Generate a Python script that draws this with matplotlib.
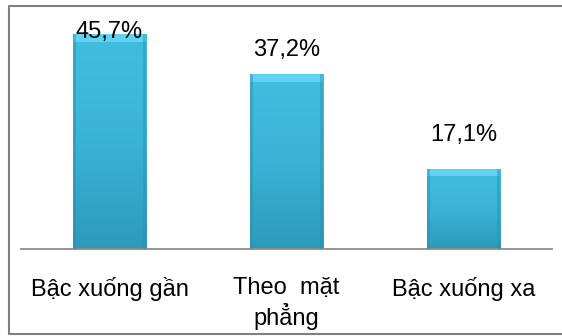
import numpy as np
import matplotlib.pyplot as plt
from matplotlib.colors import LinearSegmentedColormap
from matplotlib.patches import Rectangle
from matplotlib.lines import Line2D

plt.rcParams['font.family'] = ['Liberation Sans', 'DejaVu Sans']

# Data
categories = ["Bậc xuống gần", "Theo  mặt\nphẳng", "Bậc xuống xa"]
values = [45.7, 37.2, 17.1]
value_labels = ["45,7%", "37,2%", "17,1%"]
label_offsets = [-4, 18, 28]  # label baseline distance above bar top, in px

W, H = 562, 336
fig = plt.figure(figsize=(W / 100, H / 100), dpi=100)
ax = fig.add_axes([21 / W, 1 - 249 / H, 531 / W, 239 / H])

x = np.arange(len(categories))
bars = ax.bar(x, values, width=0.415, color="#3cb4d6", zorder=2)

ax.set_xlim(-0.5, len(categories) - 0.5)
ax.set_ylim(0, 239 / 4.7)

# gradient + bevel on each bar
cmap = LinearSegmentedColormap.from_list("g", ["#2e9aba", "#3ab3d6", "#42bde0"])
grad = np.linspace(0, 1, 100).reshape(-1, 1)
for b in bars:
    bx, bw, bh = b.get_x(), b.get_width(), b.get_height()
    b.set_facecolor("none")
    im = ax.imshow(grad, extent=[bx, bx + bw, 0, bh], aspect="auto", cmap=cmap,
                   origin="lower", zorder=2)
    im.set_clip_path(b)
    ax.add_patch(Rectangle((bx, bh - 1.6), bw, 1.6, color="#5fd3f0", zorder=3, lw=0))
    ax.add_patch(Rectangle((bx, 0), bw * 0.05, bh, color="#2a8fb0", alpha=0.45, zorder=3, lw=0))
    ax.add_patch(Rectangle((bx + bw * 0.95, 0), bw * 0.05, bh, color="#2a8fb0", alpha=0.45, zorder=3, lw=0))

for xi, v, lab, off in zip(x, values, value_labels, label_offsets):
    ax.annotate(lab, (xi, v), xytext=(0, off * 0.72), textcoords="offset points",
                ha="center", va="baseline", fontsize=17, color="black", zorder=4)

ax.set_xticks(x)
ax.set_xticklabels(categories, fontsize=17, linespacing=1.2)
ax.tick_params(axis="x", length=0, pad=20)
ax.set_yticks([])
for s in ["top", "left", "right"]:
    ax.spines[s].set_visible(False)
ax.spines["bottom"].set_color("#8c8c8c")
ax.spines["bottom"].set_linewidth(1.3)

# outer border (left, top, bottom; right edge is cut off)
bl, bt, bb = 8.5 / W, 1 - 5.5 / H, 1 - 334 / H
fig.lines.append(Line2D([1.0, bl, bl, 1.0], [bt, bt, bb, bb], transform=fig.transFigure,
                        color="#808080", lw=1.5))

fig.savefig("out.png", dpi=100)
